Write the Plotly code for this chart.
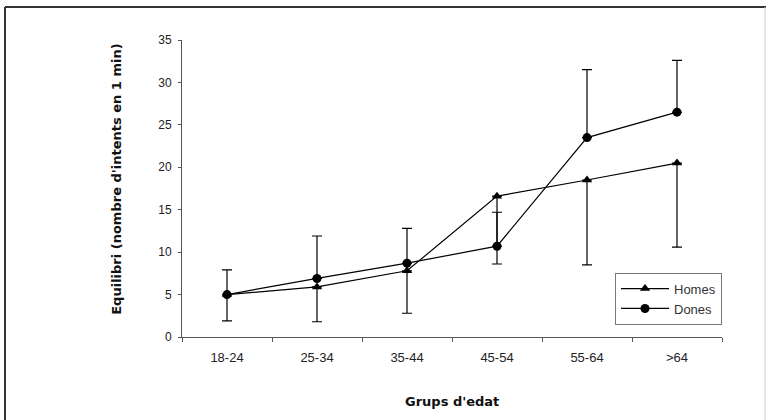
import plotly.graph_objects as go

# ---- data ----
categories = ["18-24", "25-34", "35-44", "45-54", "55-64", ">64"]
homes = [5.0, 5.9, 7.8, 16.6, 18.5, 20.5]
homes_err_minus = [3.1, 4.1, 5.0, 8.0, 10.0, 9.9]
dones = [5.0, 6.9, 8.7, 10.7, 23.5, 26.5]
dones_err_plus = [2.9, 5.0, 4.1, 4.0, 8.0, 6.1]
y_ticks = [0, 5, 10, 15, 20, 25, 30, 35]

# ---- layout geometry (pixels) ----
W, H = 766, 420
L, R, T, B = 182, 722, 40, 337.5
pw, ph = R - L, B - T


def px_x(p):
    return (p - L) / pw


def px_y(p):
    return (B - p) / ph


fig = go.Figure()

fig.add_trace(go.Scatter(
    x=categories, y=homes, name="Homes", mode="lines+markers",
    line=dict(color="black", width=1.2),
    marker=dict(symbol="triangle-up", size=9, color="black"),
    error_y=dict(type="data", symmetric=False,
                 array=[0] * len(homes), arrayminus=homes_err_minus,
                 color="black", thickness=1.2, width=5),
))
fig.add_trace(go.Scatter(
    x=categories, y=dones, name="Dones", mode="lines+markers",
    line=dict(color="black", width=1.2),
    marker=dict(symbol="circle", size=9, color="black"),
    error_y=dict(type="data", symmetric=False,
                 array=dones_err_plus, arrayminus=[0] * len(dones),
                 color="black", thickness=1.2, width=5),
))

xtick_font = dict(family="Liberation Sans, Arial, sans-serif", size=13, color="#222")
ytick_font = dict(family="Liberation Sans, Arial, sans-serif", size=12, color="#222")
title_font = dict(family="DejaVu Sans, sans-serif", size=13, color="#111")

fig.update_layout(
    width=W, height=H,
    margin=dict(l=L, r=W - R, t=T, b=H - B, pad=0),
    paper_bgcolor="white", plot_bgcolor="white",
    showlegend=True,
    legend=dict(
        x=1, xanchor="right", y=px_y(273), yanchor="top",
        bgcolor="white", bordercolor="#777", borderwidth=1,
        font=dict(family="Liberation Sans, Arial, sans-serif", size=13, color="#333"),
        itemwidth=48, tracegroupgap=2,
    ),
    xaxis=dict(
        type="category", range=[-0.5, 5.5],
        showline=True, linecolor="#555", linewidth=1,
        ticks="outside", tickson="boundaries", ticklen=4, tickcolor="#555",
        showgrid=False, zeroline=False, tickfont=xtick_font,
        ticklabelstandoff=8,
    ),
    yaxis=dict(
        range=[0, 35], tickvals=y_ticks,
        showline=True, linecolor="#555", linewidth=1,
        ticks="outside", ticklen=3, tickcolor="#555",
        showgrid=False, zeroline=False, tickfont=ytick_font,
        ticklabelstandoff=4,
    ),
    annotations=[
        dict(text="<b>Equilibri (nombre d'intents en 1 min)</b>", textangle=-90,
             xref="paper", yref="paper", x=px_x(117), y=px_y(180),
             xanchor="center", yanchor="middle", showarrow=False, font=title_font),
        dict(text="<b>Grups d'edat</b>",
             xref="paper", yref="paper", x=px_x(452), y=px_y(402),
             xanchor="center", yanchor="middle", showarrow=False, font=title_font),
    ],
    shapes=[
        dict(type="line", xref="paper", yref="paper",
             x0=px_x(5), x1=px_x(5), y0=px_y(7), y1=px_y(430),
             line=dict(color="#333", width=2)),
        dict(type="line", xref="paper", yref="paper",
             x0=px_x(5), x1=px_x(770), y0=px_y(7), y1=px_y(7),
             line=dict(color="#333", width=2)),
        dict(type="line", xref="paper", yref="paper",
             x0=px_x(765), x1=px_x(765), y0=px_y(7), y1=px_y(430),
             line=dict(color="#ccc", width=1)),
    ],
)

fig.write_html("out.html", config={"displayModeBar": False},
               post_script="document.body.style.margin='0';")
